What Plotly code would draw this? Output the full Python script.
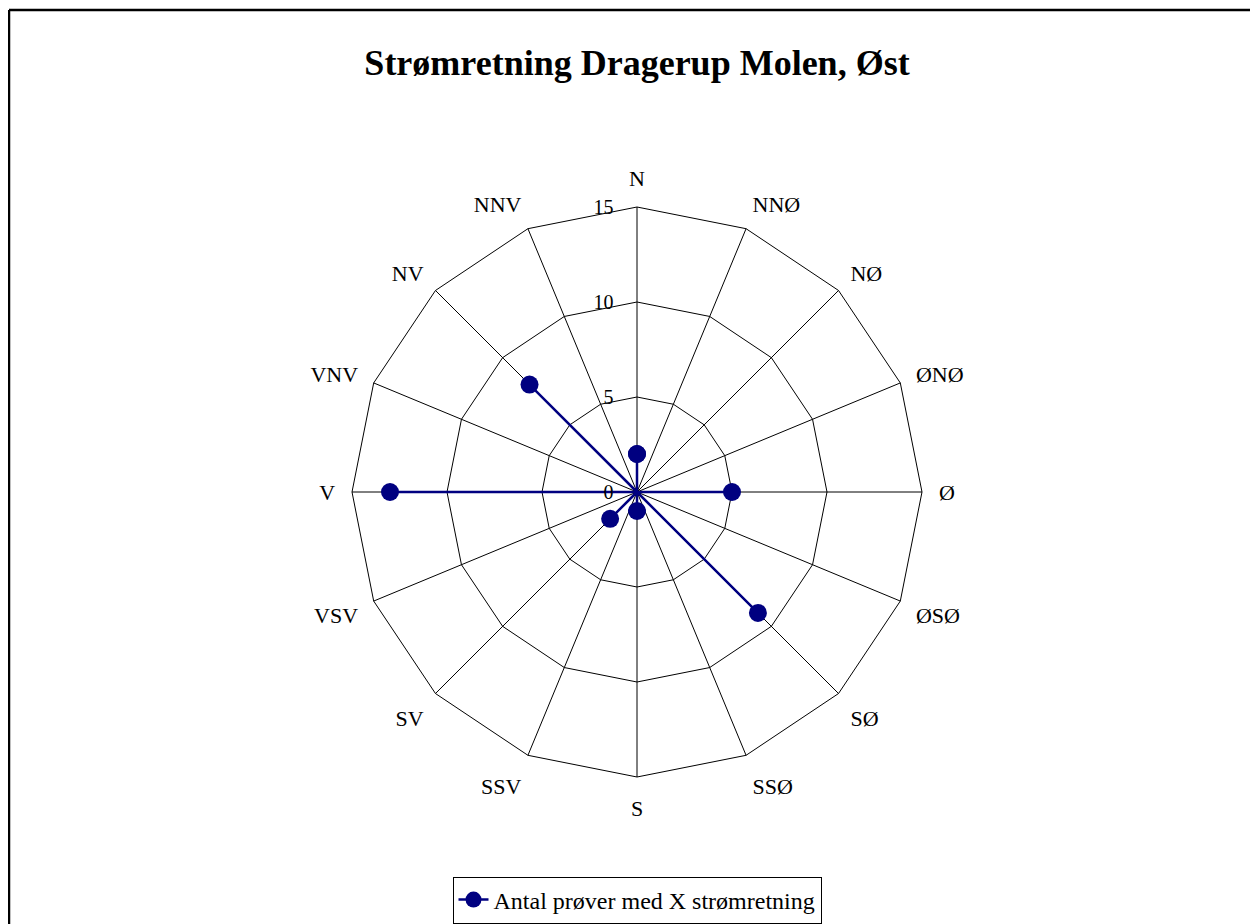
import plotly.graph_objects as go

directions = ["N", "NNØ", "NØ", "ØNØ", "Ø", "ØSØ", "SØ", "SSØ",
              "S", "SSV", "SV", "VSV", "V", "VNV", "NV", "NNV"]
counts = [2, 0, 0, 0, 5, 0, 9, 0, 1, 0, 2, 0, 13, 0, 8, 0]
radial_ticks = [0, 5, 10, 15]
series_name = "Antal prøver med X strømretning"
title_text = "Strømretning Dragerup Molen, Øst"

W, H = 1250, 916
cx, cy, R = 629, 484, 285

pad = "<span style='color:rgba(0,0,0,0)'>00</span>"
radial_text = [f"{v}{pad}" for v in radial_ticks]

fig = go.Figure()
fig.add_trace(go.Scatterpolar(
    r=counts + counts[:1],
    theta=directions + directions[:1],
    mode="lines+markers",
    name=series_name,
    line=dict(color="#000080", width=2.5),
    marker=dict(color="#000080", size=18),
))

fig.update_layout(
    width=W, height=H,
    paper_bgcolor="white",
    margin=dict(l=0, r=0, t=0, b=0),
    font=dict(family="Liberation Serif", size=22, color="black"),
    title=dict(text="<b>" + title_text + "</b>", x=cx / W, xanchor="center",
               y=1 - 54 / H, yanchor="middle",
               font=dict(family="Liberation Serif", size=36, color="black")),
    showlegend=True,
    legend=dict(x=cx / W, xanchor="center", y=1 - 892 / H, yanchor="middle",
                orientation="h", bordercolor="black", borderwidth=1,
                font=dict(family="Liberation Serif", size=24, color="black")),
    polar=dict(
        domain=dict(x=[(cx - R) / W, (cx + R) / W],
                    y=[1 - (cy + R) / H, 1 - (cy - R) / H]),
        bgcolor="white",
        gridshape="linear",
        radialaxis=dict(range=[0, 15], tickvals=radial_ticks, ticktext=radial_text,
                        angle=90, tickangle=90, showline=False, gridcolor="black",
                        gridwidth=1, ticks="", side="counterclockwise",
                        tickfont=dict(family="Liberation Serif", size=20, color="black")),
        angularaxis=dict(direction="clockwise", rotation=90, type="category",
                         categoryarray=directions, linecolor="black", linewidth=1,
                         gridcolor="black", gridwidth=1, ticks="outside",
                         ticklen=12, tickcolor="rgba(0,0,0,0)", showline=True,
                         tickfont=dict(family="Liberation Serif", size=22, color="black")),
    ),
    shapes=[
        dict(type="line", xref="paper", yref="paper", x0=1 / W, x1=1.01, y0=1 - 2 / H, y1=1 - 2 / H,
             line=dict(color="black", width=2.5)),
        dict(type="line", xref="paper", yref="paper", x0=1 / W, x1=1 / W, y0=-0.01, y1=1 - 2 / H,
             line=dict(color="black", width=2.5)),
    ],
)

fig.write_html("out.html")
